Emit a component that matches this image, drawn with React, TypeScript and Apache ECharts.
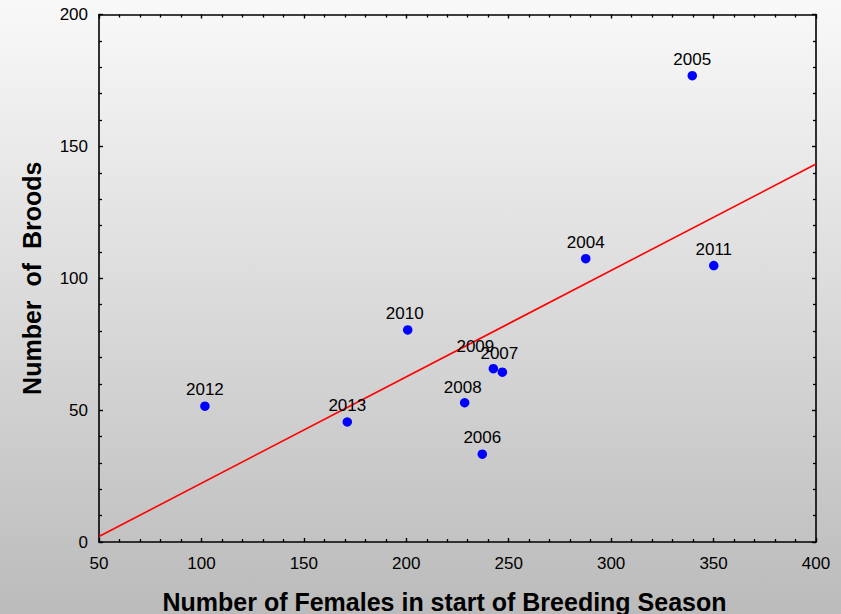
import React, { useEffect, useRef } from "react";
import * as echarts from "echarts";

const years = ["2004", "2005", "2006", "2007", "2008", "2009", "2010", "2011", "2012", "2013"];
const females = [287.6, 339.6, 237.1, 246.9, 228.5, 242.5, 200.7, 350.1, 101.7, 171.2];
const broods = [107.4, 176.8, 33.3, 64.4, 52.8, 65.7, 80.4, 104.8, 51.5, 45.5];
const labelOffsets: Record<string, number[]> = {
  "2009": [-18, -6],
  "2007": [-3, -2],
  "2010": [-3, 0],
  "2008": [-2, 1],
};
const trendX = [50, 400];
const trendY = [2.1, 143.3];
const xTicks = [50, 400, 50];
const yTicks = [0, 200, 50];

export default function App() {
  const ref = useRef<HTMLDivElement>(null);
  useEffect(() => {
    if (!ref.current) return;
    const chart = echarts.init(ref.current, undefined, { renderer: "svg" });
    const font = "'Liberation Sans', Arial, sans-serif";
    const axisCommon = {
      axisLine: { show: true, onZero: false, lineStyle: { color: "#000", width: 1.6 } },
      axisTick: { show: true, inside: true, length: 4, lineStyle: { color: "#000", width: 1.4 } },
      minorTick: { show: true, splitNumber: 5, length: 3, lineStyle: { color: "#000", width: 1.3 } },
      splitLine: { show: false },
    };
    chart.setOption({
      animation: false,
      backgroundColor: {
        type: "linear",
        x: 0,
        y: 0,
        x2: 0,
        y2: 1,
        colorStops: [
          { offset: 0, color: "#f9f9f9" },
          { offset: 1, color: "#bbbbbb" },
        ],
      },
      grid: {
        left: 99,
        right: 25,
        top: 14.5,
        bottom: 72,
        containLabel: false,
        outerBoundsMode: "none",
      },
      xAxis: [
        {
          type: "value",
          min: xTicks[0],
          max: xTicks[1],
          interval: xTicks[2],
          position: "bottom",
          ...axisCommon,
          axisLabel: { color: "#000", fontSize: 17, fontFamily: font, margin: 13 },
          name: "Number of Females in start of Breeding Season",
          nameLocation: "middle",
          nameGap: 47,
          nameTextStyle: {
            color: "#000",
            fontSize: 25,
            fontWeight: "bold",
            fontFamily: font,
            padding: [0, 26, 0, 0],
          },
        },
        {
          type: "value",
          min: xTicks[0],
          max: xTicks[1],
          interval: xTicks[2],
          position: "top",
          ...axisCommon,
          axisLabel: { show: false },
        },
      ],
      yAxis: [
        {
          type: "value",
          min: yTicks[0],
          max: yTicks[1],
          interval: yTicks[2],
          position: "left",
          ...axisCommon,
          axisLabel: { color: "#000", fontSize: 17, fontFamily: font, margin: 11 },
          name: "Number  of  Broods",
          nameLocation: "middle",
          nameGap: 55,
          nameTextStyle: { color: "#000", fontSize: 25, fontWeight: "bold", fontFamily: font },
        },
        {
          type: "value",
          min: yTicks[0],
          max: yTicks[1],
          interval: yTicks[2],
          position: "right",
          ...axisCommon,
          axisLabel: { show: false },
        },
      ],
      series: [
        {
          type: "line",
          data: trendX.map((x, i) => [x, trendY[i]]),
          symbol: "none",
          lineStyle: { color: "#ff0000", width: 1.6 },
          silent: true,
          z: 1,
        },
        {
          type: "scatter",
          symbolSize: 9.5,
          itemStyle: { color: "#0000ff", opacity: 1 },
          z: 3,
          label: {
            show: true,
            position: "top",
            distance: 3,
            color: "#000",
            fontSize: 17,
            fontFamily: font,
            formatter: (p: any) => p.name,
          },
          data: years.map((y, i) => ({
            name: y,
            value: [females[i], broods[i]],
            label: labelOffsets[y] ? { offset: labelOffsets[y] } : undefined,
          })),
        },
      ],
    });
    return () => chart.dispose();
  }, []);
  return (
    <div
      ref={ref}
      style={{ position: "fixed", left: 0, top: 0, width: 841, height: 614 }}
    />
  );
}
